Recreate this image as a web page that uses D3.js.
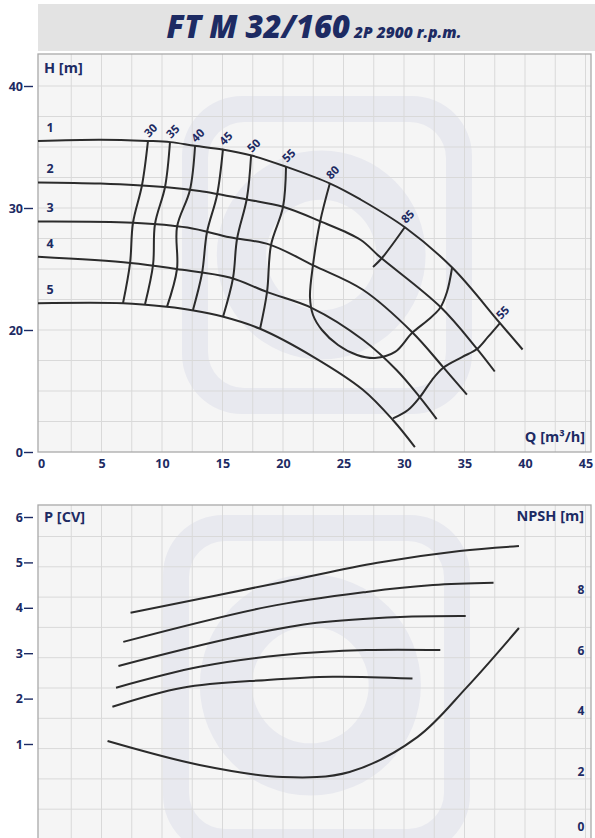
<!DOCTYPE html>
<html>
<head>
<meta charset="utf-8">
<script src="https://cdn.jsdelivr.net/npm/d3@7"></script>
<style>
  body { margin: 0; background: #fff; }
  text { font-family: "Open Sans", sans-serif; font-weight: 700; fill: #1d2b63; }
</style>
</head>
<body>
<div id="chart"></div>
<script>
// ---- data ----
const Q_TICKS = [0, 5, 10, 15, 20, 25, 30, 35, 40, 45];
const H_TICKS = [10, 20, 30, 40];
const H_TICK_LABELS = ["0", "20", "30", "40"];
const P_TICKS = [1, 2, 3, 4, 5, 6];
const NPSH_TICKS = [0, 2, 4, 6, 8];

// head curves (Q m3/h, H m), impellers 1..5
const hq1 = [[-0.25,35.5],[4.9,35.6],[8.8,35.5],[10.7,35.4],[12.7,35.1],[15.0,34.8],[17.4,34.3],[20.2,33.4],[23.9,32.0],[26.4,30.7],[30.1,28.4],[34.0,25.1],[37.9,20.6],[39.8,18.4]];
const hq2 = [[-0.25,32.1],[4.9,32.0],[10.4,31.7],[13.1,31.4],[17.0,30.7],[20.0,30.1],[23.1,28.9],[26.4,27.4],[28.0,26.0],[33.0,21.9],[36.0,18.5],[37.5,16.6]];
const hq3 = [[-0.25,28.9],[7.6,28.8],[12.1,28.4],[15.6,27.6],[18.9,27.0],[22.5,25.3],[26.6,23.3],[30.7,19.8],[33.2,17.0],[35.2,14.7]];
const hq4 = [[-0.25,26.0],[7.4,25.5],[11.2,25.0],[15.6,24.3],[18.7,23.1],[22.4,21.8],[26.6,19.2],[29.4,16.7],[31.3,14.5],[32.7,12.7]];
const hq5 = [[-0.25,22.2],[6.8,22.2],[10.4,21.9],[12.6,21.6],[15.0,21.1],[18.1,20.1],[22.5,17.8],[26.6,15.1],[29.1,12.6],[30.9,10.4]];
const hqCurves = [hq1, hq2, hq3, hq4, hq5];
const hqNames = ["1", "2", "3", "4", "5"];

// iso-efficiency lines (%)
const eff30 = [[8.84,35.49],[8.35,31.89],[7.60,28.77],[7.36,25.49],[6.78,22.21]];
const eff35 = [[10.66,35.41],[10.25,31.72],[9.42,28.69],[9.26,25.33],[8.60,22.13]];
const eff40 = [[12.73,35.08],[12.31,31.48],[11.24,28.44],[11.24,25.0],[10.41,21.89]];
const eff45 = [[15.04,34.84],[14.55,31.07],[13.72,28.03],[13.31,24.67],[12.56,21.64]];
const eff50 = [[17.36,34.26],[17.02,30.82],[16.20,27.46],[15.87,24.26],[15.04,21.07]];
const eff55 = [[20.25,33.44],[20.0,30.08],[19.01,26.97],[18.68,23.11],[18.10,20.08]];
const eff80 = [[23.88,32.05],[23.06,28.85],[22.48,25.33],[22.23,22.70],[22.48,21.23],[23.22,20.0],[24.55,18.77],[26.12,17.95],[27.60,17.70],[29.26,18.20],[30.66,19.75],[31.98,20.82],[32.98,21.80],[33.55,23.11],[33.97,25.08]];
const eff85 = [[30.08,28.44],[28.18,25.90],[27.44,25.16]];
const eff55b = [[37.93,20.57],[36.94,19.43],[36.03,18.44],[34.80,17.78],[33.22,16.89],[32.31,15.90],[31.32,14.51],[30.33,13.44],[29.09,12.75]];
const effLines = [eff30, eff35, eff40, eff45, eff50, eff55, eff80, eff85, eff55b];
const effNames = ["30", "35", "40", "45", "50", "55", "80", "85", "55"];

// power curves (Q, P in CV)
const pw1 = [[7.4,3.89],[20.0,4.57],[27.8,4.99],[34.6,5.25],[39.5,5.36]];
const pw2 = [[6.8,3.25],[18.7,4.02],[26.9,4.35],[32.4,4.50],[37.4,4.55]];
const pw3 = [[6.4,2.72],[15.9,3.34],[22.8,3.67],[29.7,3.80],[35.1,3.82]];
const pw4 = [[6.2,2.24],[13.1,2.70],[20.0,2.96],[26.9,3.07],[33.0,3.07]];
const pw5 = [[5.9,1.82],[11.7,2.24],[18.7,2.41],[24.1,2.48],[30.7,2.44]];
const powerCurves = [pw1, pw2, pw3, pw4, pw5];

// NPSH curve (Q, m)
const npsh = [[5.5,3.25],[13.1,2.46],[20.0,2.06],[25.5,2.23],[31.1,3.38],[35.2,5.03],[39.5,6.98]];

// ---- layout ----
const width = 595, height = 838;
const navy = "#1d2b63", ink = "#2b2b2b";
const boxTop = {left: 38, right: 591, top: 54, bottom: 452};
const boxBot = {left: 38, right: 591, top: 505, bottom: 840};

const svg = d3.select('#chart').append('svg')
  .attr('width', width).attr('height', height)
  .style('background', 'white');

const x = d3.scaleLinear().domain([0, 45]).range([41, 585.5]);
const yH = d3.scaleLinear().domain([10, 40]).range([452, 86]);
const yP = d3.scaleLinear().domain([0, 6]).range([789.4, 517]);
const yN = d3.scaleLinear().domain([0, 10]).range([839.5, 536.5]);

// title bar
svg.append('rect').attr('x', 38).attr('y', 4).attr('width', 557).attr('height', 47).attr('fill', '#e3e3e3');
const title = svg.append('text').attr('x', 314).attr('y', 38).attr('text-anchor', 'middle')
  .style('font-style', 'italic').style('font-weight', 800);
title.append('tspan').text('FT M 32/160').style('font-size', '31px');
title.append('tspan').text(' 2P 2900 r.p.m.').style('font-size', '15.5px');

// watermark logo (faint) drawn in a panel
function watermark(g, x0, y0, w, h) {
  const c = g.append('g').attr('fill', '#e8e9ef').attr('fill-rule', 'evenodd');
  const rr = (x, y, w, h, r) => `M${x+r},${y}H${x+w-r}A${r},${r} 0 0 1 ${x+w},${y+r}V${y+h-r}A${r},${r} 0 0 1 ${x+w-r},${y+h}H${x+r}A${r},${r} 0 0 1 ${x},${y+h-r}V${y+r}A${r},${r} 0 0 1 ${x+r},${y}Z`;
  c.append('path').attr('d', rr(x0, y0, w, h, 60) + rr(x0 + 26, y0 + 26, w - 52, h - 52, 36));
  const cx = x0 + w * 0.48, cy = y0 + h * 0.5;
  const circ = (r) => `M${cx - r},${cy}A${r},${r} 0 1 0 ${cx + r},${cy}A${r},${r} 0 1 0 ${cx - r},${cy}Z`;
  c.append('path').attr('d', circ(w * 0.36) + circ(w * 0.19));
}

function panel(b) {
  const g = svg.append('g');
  g.append('rect').attr('x', b.left).attr('y', b.top)
    .attr('width', b.right - b.left).attr('height', b.bottom - b.top)
    .attr('fill', '#f5f5f5');
  return g;
}

// ---- top panel: H-Q ----
const gTop = panel(boxTop);
watermark(gTop, 182, 96, 290, 318);

const gridTop = gTop.append('g').attr('stroke', '#d9d9d9').attr('stroke-width', 1);
gridTop.selectAll('line.v').data(d3.range(2.5, 45.1, 2.5)).join('line')
  .attr('x1', d => x(d)).attr('x2', d => x(d)).attr('y1', boxTop.top).attr('y2', boxTop.bottom);
gridTop.selectAll('line.h').data(d3.range(12.5, 40.1, 2.5)).join('line')
  .attr('y1', d => yH(d)).attr('y2', d => yH(d)).attr('x1', boxTop.left).attr('x2', boxTop.right);

gTop.append('rect').attr('x', boxTop.left).attr('y', boxTop.top)
  .attr('width', boxTop.right - boxTop.left).attr('height', boxTop.bottom - boxTop.top)
  .attr('fill', 'none').attr('stroke', '#a9a9a9').attr('stroke-width', 1.3);

const lineH = d3.line().x(d => x(d[0])).y(d => yH(d[1])).curve(d3.curveCatmullRom.alpha(0.5));

gTop.selectAll('path.hq').data(hqCurves).join('path')
  .attr('d', lineH).attr('fill', 'none').attr('stroke', ink).attr('stroke-width', 2);

gTop.selectAll('path.eff').data(effLines).join('path')
  .attr('d', lineH).attr('fill', 'none').attr('stroke', ink).attr('stroke-width', 2);

gTop.selectAll('text.hqn').data(hqCurves).join('text')
  .attr('x', 50).attr('y', d => yH(d[0][1]) - 9)
  .attr('text-anchor', 'middle').style('font-size', '12.5px')
  .text((d, i) => hqNames[i]);

gTop.selectAll('text.effn').data(effLines).join('text')
  .attr('transform', d => `translate(${x(d[0][0]) + 1},${yH(d[0][1]) - 3}) rotate(-45)`)
  .style('font-size', '11.5px')
  .text((d, i) => effNames[i]);

// axes
const axH = svg.append('g').attr('transform', 'translate(33,0)')
  .call(d3.axisLeft(yH).tickValues(H_TICKS).tickFormat((d, i) => H_TICK_LABELS[i]).tickSize(9).tickPadding(1));
axH.select('.domain').remove();
axH.selectAll('line').attr('stroke', navy).attr('stroke-width', 1.4);
axH.selectAll('text').style('font-size', '12.5px').attr('fill', navy).attr('font-family', null);

const axQ = svg.append('g').attr('transform', `translate(0,${boxTop.bottom})`)
  .call(d3.axisBottom(x).tickValues(Q_TICKS).tickSize(0).tickPadding(7));
axQ.select('.domain').remove();
axQ.selectAll('text').style('font-size', '12.5px').attr('fill', navy).attr('font-family', null);

svg.append('text').attr('x', 44).attr('y', 73).style('font-size', '14.5px').text('H [m]');
svg.append('text').attr('x', 585).attr('y', 442).attr('text-anchor', 'end').style('font-size', '14.5px')
  .text('Q [m³/h]');

// ---- bottom panel: P and NPSH ----
const gBot = panel(boxBot);
watermark(gBot, 163, 515, 307, 340);

const gridBot = gBot.append('g').attr('stroke', '#d9d9d9').attr('stroke-width', 1);
gridBot.selectAll('line.v').data(d3.range(2.5, 45.1, 2.5)).join('line')
  .attr('x1', d => x(d)).attr('x2', d => x(d)).attr('y1', boxBot.top).attr('y2', boxBot.bottom);
gridBot.selectAll('line.h').data(d3.range(1, 10.1, 1)).join('line')
  .attr('y1', d => yN(d)).attr('y2', d => yN(d)).attr('x1', boxBot.left).attr('x2', boxBot.right);

gBot.append('rect').attr('x', boxBot.left).attr('y', boxBot.top)
  .attr('width', boxBot.right - boxBot.left).attr('height', boxBot.bottom - boxBot.top)
  .attr('fill', 'none').attr('stroke', '#a9a9a9').attr('stroke-width', 1.3);

const lineP = d3.line().x(d => x(d[0])).y(d => yP(d[1])).curve(d3.curveCatmullRom.alpha(0.5));
const lineN = d3.line().x(d => x(d[0])).y(d => yN(d[1])).curve(d3.curveCatmullRom.alpha(0.5));

gBot.selectAll('path.pw').data(powerCurves).join('path')
  .attr('d', lineP).attr('fill', 'none').attr('stroke', ink).attr('stroke-width', 2);
gBot.append('path').datum(npsh).attr('d', lineN)
  .attr('fill', 'none').attr('stroke', ink).attr('stroke-width', 2);

const axP = svg.append('g').attr('transform', 'translate(33,0)')
  .call(d3.axisLeft(yP).tickValues(P_TICKS).tickFormat(d3.format('d')).tickSize(9).tickPadding(1));
axP.select('.domain').remove();
axP.selectAll('line').attr('stroke', navy).attr('stroke-width', 1.4);
axP.selectAll('text').style('font-size', '12.5px').attr('fill', navy).attr('font-family', null);

const axN = svg.append('g').attr('transform', 'translate(581,0)')
  .call(d3.axisRight(yN).tickValues(NPSH_TICKS).tickSize(0).tickPadding(0));
axN.select('.domain').remove();
axN.selectAll('text').attr('x', 0).attr('dy', d => d === 0 ? '-0.72em' : '-0.3em').attr('text-anchor', 'middle')
  .style('font-size', '12px').attr('fill', navy).attr('font-family', null);

svg.append('text').attr('x', 44).attr('y', 522).style('font-size', '14.5px').text('P [CV]');
svg.append('text').attr('x', 584).attr('y', 521).attr('text-anchor', 'end').style('font-size', '14.5px')
  .text('NPSH [m]');
</script>
</body>
</html>
